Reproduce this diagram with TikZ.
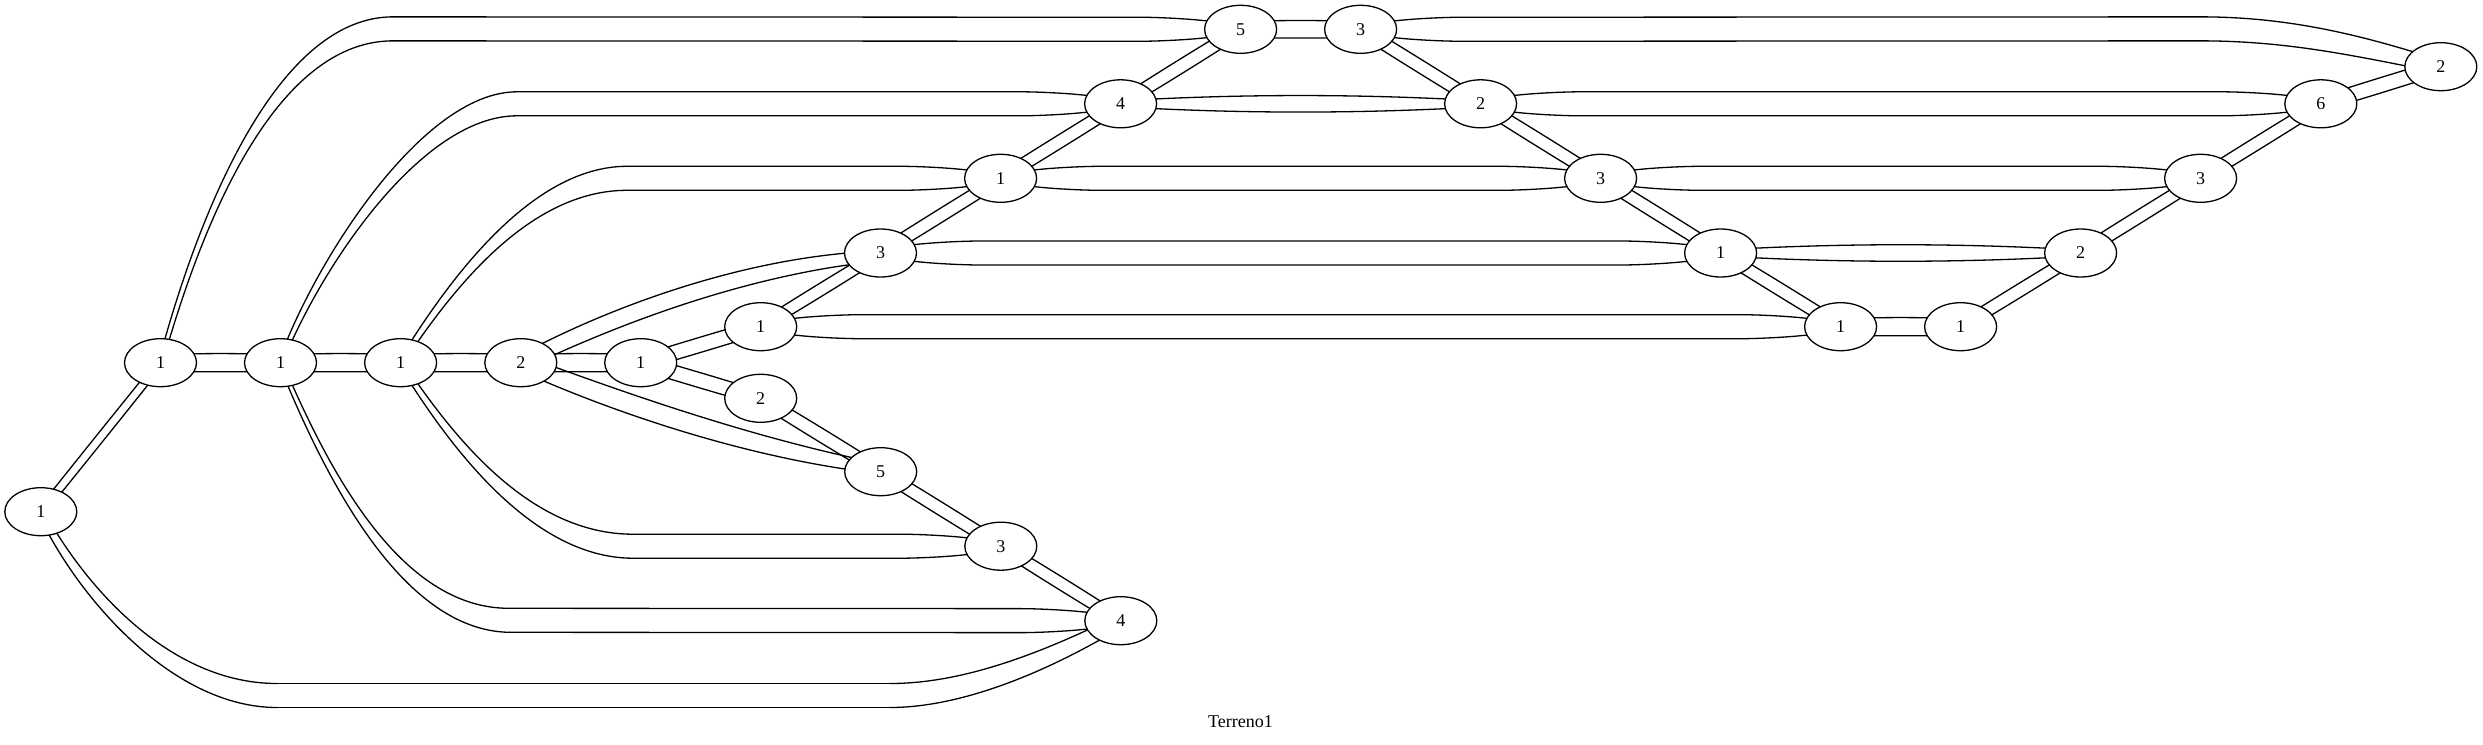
\documentclass[tikz,border=0pt]{standalone}
\usepackage{fontspec}
\setmainfont{Liberation Serif}
\usetikzlibrary{calc,shapes.geometric,backgrounds}
\tikzset{
  gnode/.style={ellipse, draw, line width=1.3pt, fill=white, minimum width=72pt,
    minimum height=48pt, inner sep=0pt, font=\fontsize{18}{22}\selectfont},
  edge/.style={line width=1.3pt},
  glabel/.style={font=\fontsize{18}{22}\selectfont, anchor=base},
}
% Bezier pair: p0, c1, c2, p3, offsets o0 o1 o2 o3
\newcommand\edgeB[8]{%
  \draw[edge] ($(#1)!#5pt!90:(#2)$) .. controls ($(#2)!#6pt!-90:(#1)$) and ($(#3)!#7pt!90:(#4)$) .. ($(#4)!#8pt!-90:(#3)$);
  \draw[edge] ($(#1)!#5pt!-90:(#2)$) .. controls ($(#2)!#6pt!90:(#1)$) and ($(#3)!#7pt!-90:(#4)$) .. ($(#4)!#8pt!90:(#3)$);}
% straight-ish pair: a, b, end offset, control offset, control distance
\newcommand\edgeS[5]{%
  \draw[edge] ($(#1)!#3pt!90:(#2)$) .. controls ($(#1)!#5pt!(#2)!#4pt!90:(#2)$) and ($(#2)!#5pt!(#1)!#4pt!-90:(#1)$) .. ($(#2)!#3pt!-90:(#1)$);
  \draw[edge] ($(#1)!#3pt!-90:(#2)$) .. controls ($(#1)!#5pt!(#2)!#4pt!-90:(#2)$) and ($(#2)!#5pt!(#1)!#4pt!90:(#1)$) .. ($(#2)!#3pt!90:(#1)$);}
% long lens pair between nodes at the same level
\newcommand\edgeL[2]{%
  \draw[edge,rounded corners=30pt] ($(#1)!5pt!90:(#2)$) -- ($(#1)!70pt!(#2)!12pt!90:(#2)$) -- ($(#2)!70pt!(#1)!12pt!-90:(#1)$) -- ($(#2)!5pt!-90:(#1)$);
  \draw[edge,rounded corners=30pt] ($(#1)!5pt!-90:(#2)$) -- ($(#1)!70pt!(#2)!12pt!-90:(#2)$) -- ($(#2)!70pt!(#1)!12pt!90:(#1)$) -- ($(#2)!5pt!90:(#1)$);}
% run from a joint to a node
\newcommand\edgeR[2]{%
  \draw[edge,rounded corners=30pt] ($(#1)!12pt!90:(#2)$) -- ($(#2)!70pt!(#1)!12pt!-90:(#1)$) -- ($(#2)!5pt!-90:(#1)$);
  \draw[edge,rounded corners=30pt] ($(#1)!12pt!-90:(#2)$) -- ($(#2)!70pt!(#1)!12pt!90:(#1)$) -- ($(#2)!5pt!90:(#1)$);}
% run from a node to a joint
\newcommand\edgeF[2]{%
  \draw[edge,rounded corners=30pt] ($(#1)!5pt!90:(#2)$) -- ($(#1)!70pt!(#2)!12pt!90:(#2)$) -- ($(#2)!12pt!-90:(#1)$);
  \draw[edge,rounded corners=30pt] ($(#1)!5pt!-90:(#2)$) -- ($(#1)!70pt!(#2)!12pt!-90:(#2)$) -- ($(#2)!12pt!90:(#1)$);}
\begin{document}
\begin{tikzpicture}[x=1pt,y=-1pt]
\useasboundingbox (0,0) rectangle (2483,744);
\node[gnode] (A) at (40.8,511.7) {1};
\node[gnode] (B) at (160.5,362.7) {1};
\node[gnode] (C) at (280.5,362.7) {1};
\node[gnode] (D) at (400.6,362.7) {1};
\node[gnode] (E) at (520.8,362.7) {2};
\node[gnode] (F) at (640.7,362.7) {1};
\node[gnode] (G) at (760.7,326.7) {1};
\node[gnode] (H) at (760.7,398.3) {2};
\node[gnode] (I) at (880.5,253) {3};
\node[gnode] (J) at (880.7,471.7) {5};
\node[gnode] (K) at (1000.8,546.2) {3};
\node[gnode] (L) at (1120.8,620.7) {4};
\node[gnode] (M) at (1000.6,178.3) {1};
\node[gnode] (N) at (1120.6,103.8) {4};
\node[gnode] (O) at (1240.6,29.3) {5};
\node[gnode] (P) at (1360.6,29.3) {3};
\node[gnode] (Q) at (1480.6,103.8) {2};
\node[gnode] (R) at (1600.6,178.3) {3};
\node[gnode] (S) at (1720.6,253) {1};
\node[gnode] (T) at (1840.6,326.7) {1};
\node[gnode] (U) at (1960.6,326.7) {1};
\node[gnode] (V) at (2080.6,253) {2};
\node[gnode] (W) at (2200.6,178.3) {3};
\node[gnode] (X) at (2320.8,103.8) {6};
\node[gnode] (Y) at (2440.8,66.7) {2};
\node[glabel] (title) at (1240.5,727.7) {Terreno1};
\coordinate (Ie) at ($(I)+(0,3)$);
\coordinate (Je) at ($(J)+(0,-3)$);
\begin{pgfonlayer}{background}
% adjacent horizontal pairs
\edgeS{B}{C}{8}{9.5}{40}
\edgeS{C}{D}{8}{9.5}{40}
\edgeS{D}{E}{8}{9.5}{40}
\edgeS{E}{F}{8}{9.5}{40}
\edgeS{O}{P}{8}{9}{40}
\edgeS{T}{U}{8}{9.5}{40}
% diagonal pairs
\edgeS{A}{B}{4}{4.3}{64}
\edgeS{F}{G}{7}{7.5}{42}
\edgeS{F}{H}{7}{7.5}{42}
\edgeS{G}{I}{5.5}{6.2}{47}
\edgeS{H}{J}{6}{6.8}{47}
\edgeS{J}{K}{6}{6.5}{47}
\edgeS{K}{L}{5.5}{6.3}{47}
\edgeS{I}{M}{6}{6.5}{47}
\edgeS{M}{N}{6}{6.5}{47}
\edgeS{N}{O}{6}{6.8}{47}
\edgeS{P}{Q}{6}{6.5}{47}
\edgeS{Q}{R}{6}{6.5}{47}
\edgeS{R}{S}{6}{6.5}{47}
\edgeS{S}{T}{6}{6.5}{47}
\edgeS{U}{V}{6}{6.5}{47}
\edgeS{V}{W}{6}{6.5}{47}
\edgeS{W}{X}{6}{6.5}{47}
\edgeS{X}{Y}{7}{7.5}{42}
% same-level pairs
\edgeS{N}{Q}{3}{10}{120}
\edgeS{S}{V}{3}{10}{120}
\edgeL{M}{R}
\edgeL{I}{S}
\edgeL{G}{T}
\edgeL{Q}{X}
\edgeL{R}{W}
% long pairs
\edgeB{B}{190,255}{265,28.85}{393,28.85}{2}{3}{12}{12}
\edgeR{393,28.85}{O}
\edgeB{C}{315,270}{420,103.8}{517,103.8}{2}{4}{12}{12}
\edgeR{517,103.8}{N}
\edgeB{D}{450,285}{530,178.3}{627,178.3}{2.5}{4}{12}{12}
\edgeR{627,178.3}{M}
\edgeB{D}{450,440}{530,546.2}{633,546.2}{2.5}{4}{12}{12}
\edgeR{633,546.2}{K}
\edgeB{C}{325,470}{400,620.3}{510,620.3}{2}{3}{11}{12}
\edgeR{510,620.3}{L}
\edgeB{A}{80,590}{170,695.5}{277,695.5}{3}{6}{12}{12}
\edgeS{277,695.5}{890,695.5}{12}{12}{200}
\edgeB{890,695.5}{960,695.5}{1040,665}{L}{12}{12}{10}{6}
\edgeB{E}{600,322}{740,265}{Ie}{7}{9.5}{9.5}{5}
\edgeB{E}{600,395}{740,447}{Je}{7.5}{11}{11}{5}
\edgeF{P}{2200,28.85}
\edgeB{2200,28.85}{2290,28.85}{2360,46}{Y}{12}{12}{11}{6}
\end{pgfonlayer}
\end{tikzpicture}
\end{document}
